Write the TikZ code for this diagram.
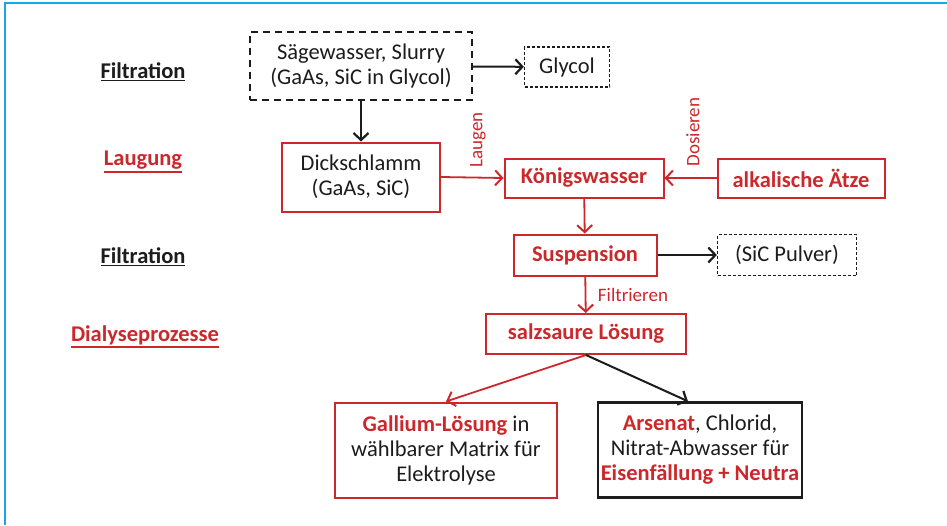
\documentclass[tikz,border=0pt]{standalone}
\usepackage{fontspec}
\setmainfont{Carlito}
\usetikzlibrary{arrows.meta}
\definecolor{prred}{RGB}{204,40,44}
\definecolor{prblack}{RGB}{28,28,28}
\definecolor{prcyan}{RGB}{20,170,230}
\newcommand{\thickul}[1]{\vtop{\hbox{#1}\kern1.2pt\hrule height 1.6pt}}

\begin{document}
\begin{tikzpicture}[x=1pt,y=-1pt,
  every node/.style={font=\fontsize{22.5}{25}\selectfont,text=prblack,inner sep=0pt},
  redbox/.style={draw=prred,line width=2pt,align=center},
  blackbox/.style={draw=prblack,line width=2.4pt,align=center},
  dashbox/.style={draw=prblack,line width=2.4pt,dash pattern=on 7pt off 5pt,align=center},
  dotbox/.style={draw=prblack,line width=1.3pt,dash pattern=on 3pt off 2pt,align=center},
  boldred/.style={text=prred,font=\fontsize{22.5}{25}\selectfont\bfseries},
  stagelbl/.style={font=\fontsize{22.5}{25}\selectfont\bfseries},
  smalllbl/.style={font=\fontsize{19}{21}\selectfont,text=prred},
  redarr/.style={prred,line width=1.8pt,-{Straight Barb[length=7pt,width=15pt,line width=2pt]}},
  blackarr/.style={prblack,line width=2pt,-{Straight Barb[length=7pt,width=15pt,line width=2.2pt]}}]
\useasboundingbox (0,0) rectangle (947,525);

% Frame
\draw[prcyan,line width=2pt] (5,525) -- (5,3) -- (947,3);

% Stages
\node[stagelbl] (filt1) at (143,72) {\thickul{Filtration}};
\node[stagelbl,text=prred] (laug) at (143,162) {\thickul{Laugung}};
\node[stagelbl] (filt2) at (143,257) {\thickul{Filtration}};
\node[stagelbl,text=prred] (dial) at (145,337) {\thickul{Dialyseprozesse}};

% Input
\node[dashbox,minimum width=222pt,minimum height=68pt] (saege) at (361,66) {Sägewasser, Slurry\\(GaAs, SiC in Glycol)};
\node[dotbox,minimum width=85pt,minimum height=40pt] (glycol) at (567,67) {Glycol};

% Leaching
\node[redbox,minimum width=158pt,minimum height=69pt] (dick) at (361,177) {Dickschlamm\\(GaAs, SiC)};
\node[redbox,boldred,minimum width=159pt,minimum height=39pt] (koenig) at (584,178) {Königswasser};
\node[redbox,boldred,minimum width=167pt,minimum height=39pt] (aetze) at (801,178) {alkalische Ätze};

% Filtration
\node[redbox,boldred,minimum width=143pt,minimum height=41pt] (susp) at (585,255) {Suspension};
\node[dotbox,minimum width=139pt,minimum height=41pt] (sic) at (787,255) {(SiC Pulver)};

% Dialysis
\node[redbox,boldred,minimum width=200pt,minimum height=40pt] (salz) at (586,334) {salzsaure Lösung};
\node[redbox,minimum width=222pt,minimum height=95pt] (gallium) at (446,450) {\textcolor{prred}{\textbf{Gallium-Lösung}} in\\wählbarer Matrix für\\Elektrolyse};
\node[blackbox,minimum width=204pt,minimum height=95pt] (arsenat) at (700,450) {\textcolor{prred}{\textbf{Arsenat}}, Chlorid,\\Nitrat-Abwasser für\\\textcolor{prred}{\textbf{Eisenfällung + Neutra}}};

% Labels
\node[smalllbl,rotate=90] (laugen) at (478,140) {Laugen};
\node[smalllbl,rotate=90] (dosieren) at (693,132) {Dosieren};
\node[smalllbl] (filtrieren) at (633,295) {Filtrieren};

% Arrows
\draw[blackarr] (saege) -- (glycol);
\draw[blackarr] (saege) -- (dick);
\draw[redarr] (dick.east) -- (koenig.west);
\draw[redarr] (aetze) -- (koenig);
\draw[redarr] (koenig) -- (susp);
\draw[blackarr] (susp) -- (sic);
\draw[redarr] (susp) -- (salz);
\draw[redarr] (salz.south) -- (gallium.north);
\draw[blackarr] (salz.south) -- ([xshift=-12pt]arsenat.north);
\end{tikzpicture}
\end{document}
